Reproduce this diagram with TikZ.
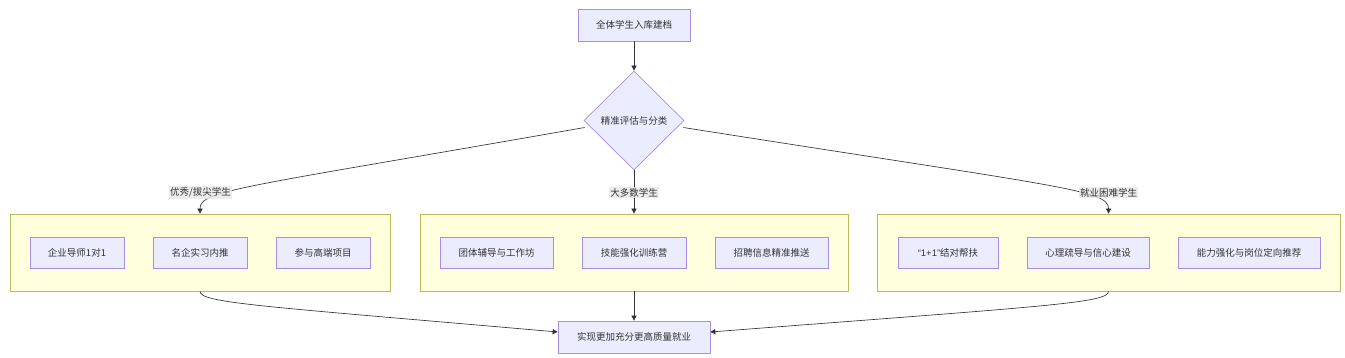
\documentclass[tikz,border=0pt]{standalone}
\usepackage{fontspec}
\setmainfont{Noto Sans CJK SC}
\newfontfamily\latinfont{Liberation Sans}
\usetikzlibrary{shapes.geometric,arrows.meta,calc}
\definecolor{nfill}{HTML}{ECECFF}
\definecolor{ndraw}{HTML}{9370DB}
\definecolor{cfill}{HTML}{FFFFDE}
\definecolor{cdraw}{HTML}{AAAA33}
\definecolor{edge}{HTML}{333333}
\definecolor{lbl}{HTML}{E8E8E8}
\begin{document}
\begin{tikzpicture}[x=1pt,y=-1pt,
  every node/.style={font=\fontsize{9.5}{11}\selectfont, text=edge},
  box/.style={draw=ndraw!80, fill=nfill, line width=0.7pt, minimum height=31pt, inner sep=0pt},
  cluster/.style={draw=cdraw!80, fill=cfill, line width=0.7pt, minimum height=77pt, inner sep=0pt},
  dec/.style={diamond, aspect=1, draw=ndraw!80, fill=nfill, line width=0.7pt, minimum width=100pt, minimum height=99pt, inner sep=0pt},
  elabel/.style={fill=lbl, fill opacity=0.8, text opacity=1, inner sep=1.2pt},
  conn/.style={draw=edge, line width=0.65pt, -{Triangle[length=5pt,width=5pt]}}
]
\useasboundingbox (0,0) rectangle (1345,358);
\fill[white] (0,0) rectangle (1345,358);

% clusters
\node[cluster, minimum width=380pt] (cL) at (200,252.5) {};
\node[cluster, minimum width=428pt] (cM) at (634,252.5) {};
\node[cluster, minimum width=463pt] (cR) at (1108.5,252.5) {};

% main nodes
\node[box, minimum width=112pt, minimum height=32pt] (top) at (634,25) {全体学生入库建档};
\node[dec] (d) at (634,120.5) {精准评估与分类};
\node[box, minimum width=152pt, minimum height=32pt] (bot) at (634,337) {实现更加充分更高质量就业};

% inner nodes
\node[box, minimum width=94pt] (l1) at (77,252.5) {企业导师1对1};
\node[box, minimum width=94pt] (l2) at (200,252.5) {名企实习内推};
\node[box, minimum width=94pt] (l3) at (323,252.5) {参与高端项目};
\node[box, minimum width=113pt] (m1) at (496.5,252.5) {团体辅导与工作坊};
\node[box, minimum width=104pt] (m2) at (634,252.5) {技能强化训练营};
\node[box, minimum width=113pt] (m3) at (771.5,252.5) {招聘信息精准推送};
\node[box, minimum width=100pt] (r1) at (948,252.5) {{\latinfont “1+1”}结对帮扶};
\node[box, minimum width=122pt] (r2) at (1088,252.5) {心理疏导与信心建设};
\node[box, minimum width=142pt] (r3) at (1249,252.5) {能力强化与岗位定向推荐};

% connectors
\draw[conn] (top.south) -- (d.north);
\draw[conn] ($(d.west)+(1,7)$) .. controls (240,188) and (200,190) .. (cL.north);
\draw[conn] (d.south) -- (cM.north);
\draw[conn] ($(d.east)+(-1,7)$) .. controls (1068,188) and (1108.5,190) .. (cR.north);
\draw[conn] (cL.south) .. controls (200,303) and (260,306) .. ($(bot.west)+(0,-5)$);
\draw[conn] (cM.south) -- (bot.north);
\draw[conn] (cR.south) .. controls (1108.5,303) and (1048,306) .. ($(bot.east)+(0,-5)$);

% edge labels
\node[elabel] (eL) at (200.5,192.5) {优秀/拔尖学生};
\node[elabel] (eM) at (634,192.5) {大多数学生};
\node[elabel] (eR) at (1108.5,192.5) {就业困难学生};
\end{tikzpicture}
\end{document}
